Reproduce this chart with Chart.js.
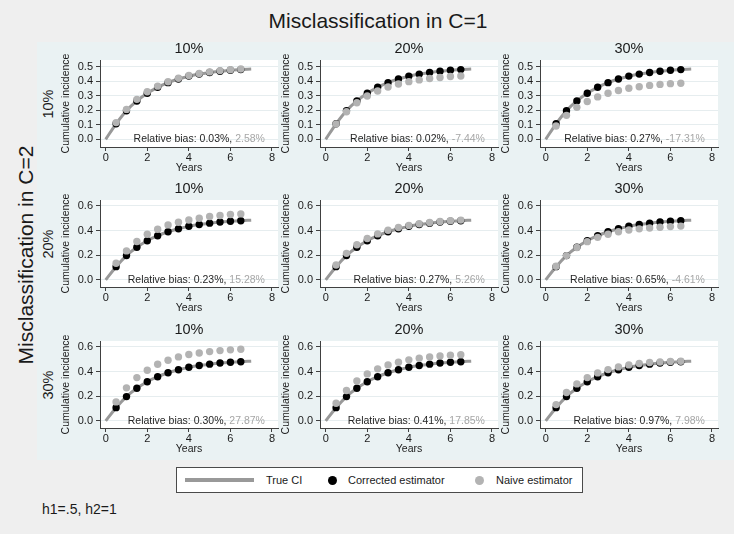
<!DOCTYPE html>
<html><head><meta charset="utf-8">
<script src="https://cdn.jsdelivr.net/npm/chart.js@4.4.1/dist/chart.umd.min.js"></script>
<style>
body{margin:0;width:734px;height:534px;background:#efefef;font-family:"Liberation Sans",Arial,sans-serif;overflow:hidden;position:relative}
#inner{position:absolute;left:37px;top:42px;width:697px;height:418px;background:#eaf2f3}
canvas.p{position:absolute}
.t{position:absolute;color:#1a1a1a;white-space:nowrap;line-height:1}
#legend{position:absolute;left:176px;top:467px;width:405px;height:24px;background:#fff;border:1px solid #4a4a4a}
#legend span{position:absolute}
.lt{top:0;height:25px;line-height:25px;font-size:11px;color:#1a1a1a;white-space:nowrap}
</style></head>
<body>
<div id="inner"></div>
<div class="t" style="left:378px;top:20px;transform:translate(-50%,-50%);font-size:21px">Misclassification in C=1</div>
<div class="t" style="left:25px;top:255px;transform:translate(-50%,-50%) rotate(-90deg);font-size:21px">Misclassification in C=2</div>
<div id="rowlabels"></div>
<div id="panels"></div>
<div id="legend">
  <span style="left:8px;top:10px;width:69px;height:4px;background:#999"></span>
  <span class="lt" style="left:89px">True CI</span>
  <span style="left:151px;top:8px;width:9px;height:9px;border-radius:50%;background:#000"></span>
  <span class="lt" style="left:171px">Corrected estimator</span>
  <span style="left:298px;top:8px;width:9px;height:9px;border-radius:50%;background:#b3b3b3"></span>
  <span class="lt" style="left:319px">Naive estimator</span>
</div>
<div class="t" style="left:42px;top:509px;transform:translateY(-50%);font-size:14px">h1=.5, h2=1</div>
<script>
// ---- data ----
const colLabels = ['10%', '20%', '30%'];   // misclassification in C=1
const rowLabels = ['10%', '20%', '30%'];   // misclassification in C=2
const xTicks = [0, 2, 4, 6, 8];
const yTicksRow1 = [0.0, 0.1, 0.2, 0.3, 0.4, 0.5];
const yTicksRow23 = [0.0, 0.2, 0.4, 0.6];

const trueYears = [0, 0.5, 1, 1.5, 2, 2.5, 3, 3.5, 4, 4.5, 5, 5.5, 6, 6.5, 7];
const trueCI = [0, 0.107, 0.197, 0.264, 0.317, 0.358, 0.390, 0.415, 0.434, 0.449, 0.460, 0.469, 0.475, 0.480, 0.484];

const years = [0.5, 1, 1.5, 2, 2.5, 3, 3.5, 4, 4.5, 5, 5.5, 6, 6.5];
const corrected = [0.107, 0.197, 0.264, 0.317, 0.358, 0.390, 0.415, 0.435, 0.449, 0.460, 0.469, 0.475, 0.480];

const naiveR1C1 = [0.115, 0.206, 0.275, 0.327, 0.366, 0.396, 0.420, 0.439, 0.453, 0.464, 0.473, 0.479, 0.484];
const naiveR1C2 = [0.106, 0.190, 0.252, 0.298, 0.333, 0.360, 0.381, 0.397, 0.409, 0.419, 0.426, 0.432, 0.436];
const naiveR1C3 = [0.092, 0.165, 0.220, 0.260, 0.292, 0.317, 0.336, 0.352, 0.362, 0.371, 0.378, 0.383, 0.386];
const naiveR2C1 = [0.135, 0.235, 0.311, 0.370, 0.411, 0.446, 0.468, 0.486, 0.500, 0.514, 0.522, 0.530, 0.535];
const naiveR2C2 = [0.120, 0.215, 0.285, 0.335, 0.373, 0.403, 0.425, 0.442, 0.455, 0.466, 0.474, 0.480, 0.485];
const naiveR2C3 = [0.110, 0.197, 0.262, 0.310, 0.345, 0.370, 0.390, 0.404, 0.414, 0.421, 0.427, 0.432, 0.436];
const naiveR3C1 = [0.154, 0.268, 0.351, 0.411, 0.459, 0.492, 0.519, 0.538, 0.551, 0.562, 0.570, 0.576, 0.581];
const naiveR3C2 = [0.143, 0.246, 0.324, 0.381, 0.422, 0.454, 0.476, 0.495, 0.508, 0.519, 0.527, 0.532, 0.537];
const naiveR3C3 = [0.132, 0.230, 0.300, 0.351, 0.389, 0.416, 0.438, 0.454, 0.465, 0.473, 0.478, 0.482, 0.484];

const biasCorrected = ['0.03%', '0.02%', '0.27%', '0.23%', '0.27%', '0.65%', '0.30%', '0.41%', '0.97%'];
const biasNaive = ['2.58%', '-7.44%', '-17.31%', '15.28%', '5.26%', '-4.61%', '27.87%', '17.85%', '7.98%'];

// ---- layout ----
const FONT = '"Liberation Sans", Arial, sans-serif';
const naiveAll = [naiveR1C1, naiveR1C2, naiveR1C3, naiveR2C1, naiveR2C2, naiveR2C3, naiveR3C1, naiveR3C2, naiveR3C3];
const areaLefts = [100, 320, 540];
const areaTops = [60, 200, 341];
const AW = 178, AH = 87, YW = 62, TH = 22, XH = 28, PR = 4;
const yRanges = [[-0.053, 0.546], [-0.058, 0.648], [-0.058, 0.648]];
const yTicksByRow = [yTicksRow1, yTicksRow23, yTicksRow23];

const rl = document.getElementById('rowlabels');
rowLabels.forEach((t, r) => {
  const d = document.createElement('div');
  d.className = 't';
  d.style.cssText = `left:48px;top:${areaTops[r] + AH / 2}px;transform:translate(-50%,-50%) rotate(-90deg);font-size:14.5px`;
  d.textContent = t;
  rl.appendChild(d);
});

const panelExtras = {
  id: 'panelExtras',
  beforeDraw(chart) {
    const {ctx, chartArea: a} = chart;
    ctx.save();
    ctx.fillStyle = '#ffffff';
    ctx.fillRect(a.left, a.top, a.right - a.left, a.bottom - a.top);
    ctx.restore();
  },
  afterDatasetsDraw(chart, args, opts) {
    const {ctx} = chart;
    const x = chart.scales.x.getPixelForValue(7.66);
    const y = chart.scales.y.getPixelForValue(0);
    ctx.save();
    ctx.font = '10.5px ' + FONT;
    ctx.textAlign = 'right';
    ctx.textBaseline = 'middle';
    ctx.fillStyle = '#a6a6a6';
    ctx.fillText(opts.light, x, y);
    const w = ctx.measureText(opts.light).width;
    ctx.fillStyle = '#262626';
    ctx.fillText(opts.dark, x - w, y);
    ctx.restore();
  }
};

const host = document.getElementById('panels');
for (let r = 0; r < 3; r++) {
  for (let c = 0; c < 3; c++) {
    const i = r * 3 + c;
    const cv = document.createElement('canvas');
    cv.className = 'p';
    const W = YW + AW + PR, H = TH + AH + XH;
    cv.width = W; cv.height = H;
    cv.style.left = (areaLefts[c] - YW) + 'px';
    cv.style.top = (areaTops[r] - TH) + 'px';
    cv.style.width = W + 'px'; cv.style.height = H + 'px';
    host.appendChild(cv);
    const yt = yTicksByRow[r];
    new Chart(cv, {
      type: 'scatter',
      data: {
        datasets: [
          { label: 'Naive estimator', data: years.map((x, k) => ({x, y: naiveAll[i][k]})),
            backgroundColor: '#b3b3b3', borderWidth: 0, pointRadius: 3.7, order: 0 },
          { label: 'Corrected estimator', data: years.map((x, k) => ({x, y: corrected[k]})),
            backgroundColor: '#000000', borderWidth: 0, pointRadius: 3.7, order: 1 },
          { label: 'True CI', data: trueYears.map((x, k) => ({x, y: trueCI[k]})),
            showLine: true, borderColor: '#999999', borderWidth: 3, pointRadius: 0,
            cubicInterpolationMode: 'monotone', order: 2 }
        ]
      },
      options: {
        responsive: false, animation: false, devicePixelRatio: 1,
        layout: { padding: { left: 0, right: PR, top: 0, bottom: 0 } },
        plugins: {
          legend: { display: false }, tooltip: { enabled: false },
          title: { display: true, text: colLabels[c], fullSize: false, color: '#1a1a1a',
                   font: { size: 14.5, family: FONT, weight: 'normal' }, padding: { top: 2.6, bottom: 2 } },
          panelExtras: { dark: 'Relative bias: ' + biasCorrected[i] + ', ', light: biasNaive[i] }
        },
        scales: {
          x: {
            type: 'linear', min: -0.274, max: 8.289,
            afterBuildTicks: s => { s.ticks = xTicks.map(v => ({value: v})); },
            afterFit: s => { s.height = XH; },
            grid: { drawOnChartArea: false, tickLength: 4, tickColor: '#404040' },
            border: { color: '#404040', width: 1 },
            ticks: { font: { size: 11, family: FONT }, color: '#1a1a1a', padding: 0, maxRotation: 0, autoSkip: false,
                     callback: v => String(v) },
            title: { display: true, text: 'Years', color: '#1a1a1a', font: { size: 10.5, family: FONT }, padding: { top: 0, bottom: 1 } }
          },
          y: {
            type: 'linear', min: yRanges[r][0], max: yRanges[r][1],
            afterBuildTicks: s => { s.ticks = yt.map(v => ({value: v})); },
            afterFit: s => { s.width = YW; },
            grid: { color: '#e6edef', tickLength: 4, tickColor: '#404040' },
            border: { color: '#404040', width: 1 },
            ticks: { font: { size: 11, family: FONT }, color: '#1a1a1a', padding: 3, autoSkip: false,
                     callback: v => Number(v).toFixed(1) },
            title: { display: true, text: 'Cumulative incidence', color: '#1a1a1a', font: { size: 10.5, family: FONT }, padding: { top: 22, bottom: 0 } }
          }
        }
      },
      plugins: [panelExtras]
    });
  }
}
</script>
</body></html>
